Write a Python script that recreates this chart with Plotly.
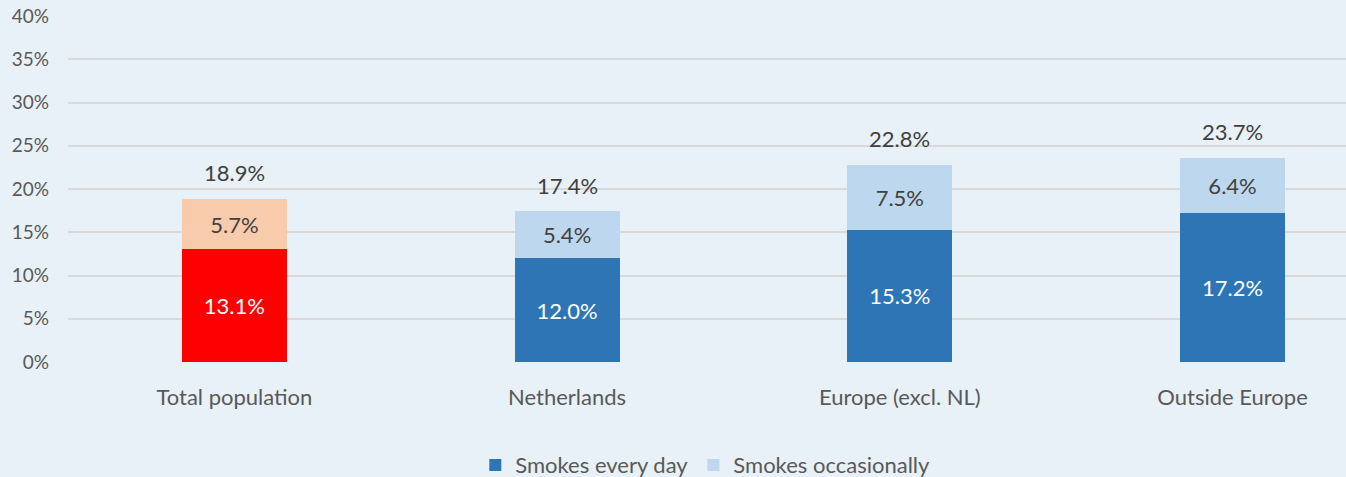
import plotly.graph_objects as go

categories = ["Total population", "Netherlands", "Europe (excl. NL)", "Outside Europe"]
every_day = [13.1, 12.0, 15.3, 17.2]
occasionally = [5.7, 5.4, 7.5, 6.4]
totals = [18.9, 17.4, 22.8, 23.7]
y_ticks = [0, 5, 10, 15, 20, 25, 30, 35, 40]

FONT = "Lato"
BG = "#e8f0f8"
BLUE_DARK = "#2e75b6"
BLUE_LIGHT = "#bdd7ee"
RED = "#ff0000"
PEACH = "#f8cbad"
BAR_W = 0.316
LABEL_SIZE = 22

def pct(v):
    return f"{v:.1f}%"

fig = go.Figure()

# Total population highlighted in red tones (no legend entry)
fig.add_trace(go.Bar(
    x=categories[:1], y=every_day[:1], width=BAR_W,
    marker=dict(color=RED, line=dict(width=0)),
    text=[pct(v) for v in every_day[:1]], textposition="inside",
    insidetextanchor="middle",
    textfont=dict(color="white", size=LABEL_SIZE, family=FONT),
    showlegend=False, hoverinfo="skip",
))
fig.add_trace(go.Bar(
    x=categories[:1], y=occasionally[:1], width=BAR_W,
    marker=dict(color=PEACH, line=dict(width=0)),
    text=[pct(v) for v in occasionally[:1]], textposition="inside",
    insidetextanchor="middle",
    textfont=dict(color="#404040", size=LABEL_SIZE, family=FONT),
    showlegend=False, hoverinfo="skip",
))

# Origin groups
fig.add_trace(go.Bar(
    name="Smokes every day",
    x=categories[1:], y=every_day[1:], width=BAR_W,
    marker=dict(color=BLUE_DARK, line=dict(width=0)),
    text=[pct(v) for v in every_day[1:]], textposition="inside",
    insidetextanchor="middle",
    textfont=dict(color="white", size=LABEL_SIZE, family=FONT),
))
fig.add_trace(go.Bar(
    name="Smokes occasionally",
    x=categories[1:], y=occasionally[1:], width=BAR_W,
    marker=dict(color=BLUE_LIGHT, line=dict(width=0)),
    text=[pct(v) for v in occasionally[1:]], textposition="inside",
    insidetextanchor="middle",
    textfont=dict(color="#404040", size=LABEL_SIZE, family=FONT),
))

# Totals above the stacks
for cat, tot in zip(categories, totals):
    fig.add_annotation(
        x=cat, y=tot, text=pct(tot), showarrow=False,
        yanchor="middle", yshift=26,
        font=dict(color="#404040", size=LABEL_SIZE, family=FONT),
    )

fig.update_layout(
    barmode="stack",
    width=1346, height=477,
    margin=dict(l=68, r=0, t=16, b=115, autoexpand=False),
    paper_bgcolor=BG, plot_bgcolor=BG,
    font=dict(family=FONT, color="#595959"),
    legend=dict(
        orientation="h", xref="container", x=0.524, xanchor="center",
        yref="container", y=0.025, yanchor="middle",
        font=dict(size=LABEL_SIZE, color="#595959", family=FONT),
        itemsizing="constant", traceorder="normal", itemwidth=30,
    ),
    xaxis=dict(
        type="category", range=[-0.5, 3.341],
        showgrid=False, showline=False, zeroline=False,
        tickfont=dict(size=LABEL_SIZE, color="#595959", family=FONT),
        ticks="", ticklabelstandoff=20,
    ),
    yaxis=dict(
        range=[0, 40], tickvals=y_ticks,
        ticktext=[f"{v}%" for v in y_ticks],
        showgrid=True, gridcolor="#d9d9d9", gridwidth=1.5,
        zeroline=False, showline=False,
        tickfont=dict(size=19, color="#595959", family=FONT),
        ticks="", ticklabelstandoff=18,
    ),
)

fig.write_html("out.html")
